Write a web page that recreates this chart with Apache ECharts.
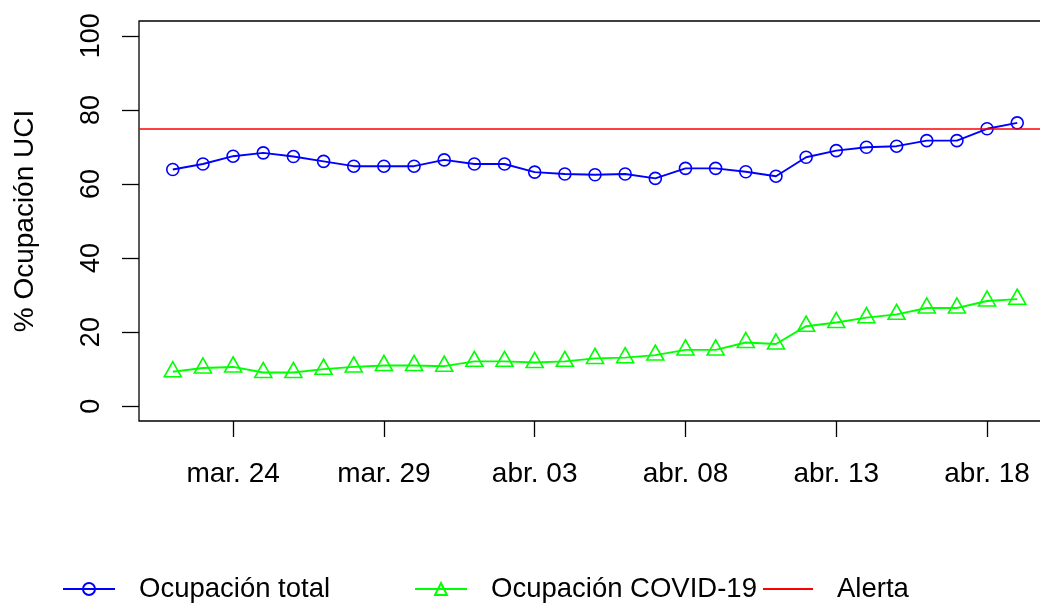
<!DOCTYPE html>
<html>
<head>
<meta charset="utf-8">
<script src="https://cdn.jsdelivr.net/npm/echarts@6/dist/echarts.min.js"></script>
<style>
  html, body { margin: 0; padding: 0; background: #fff; }
  #main { width: 1040px; height: 604px; }
</style>
</head>
<body>
<div id="main"></div>
<script>
// fechas (una por día)
const dates = ['mar. 22', 'mar. 23', 'mar. 24', 'mar. 25', 'mar. 26', 'mar. 27', 'mar. 28', 'mar. 29', 'mar. 30', 'mar. 31',
  'abr. 01', 'abr. 02', 'abr. 03', 'abr. 04', 'abr. 05', 'abr. 06', 'abr. 07', 'abr. 08', 'abr. 09', 'abr. 10',
  'abr. 11', 'abr. 12', 'abr. 13', 'abr. 14', 'abr. 15', 'abr. 16', 'abr. 17', 'abr. 18', 'abr. 19'];
const ocupTotal = [63.9, 65.4, 67.5, 68.4, 67.4, 66.1, 64.8, 64.8, 64.8, 66.5, 65.4, 65.4, 63.2, 62.7, 62.5,
  62.7, 61.5, 64.2, 64.2, 63.3, 62.1, 67.2, 69.0, 69.9, 70.2, 71.7, 71.7, 74.9, 76.5];
const ocupCovid = [9.3, 10.3, 10.6, 9.1, 9.1, 10.0, 10.6, 11.0, 11.0, 10.8, 12.1, 12.1, 11.8, 12.1, 12.9,
  13.1, 13.8, 15.2, 15.2, 17.2, 16.8, 21.6, 22.6, 23.9, 24.8, 26.5, 26.5, 28.4, 28.9];
const alerta = 75;
const xTickLabels = ['mar. 24', 'mar. 29', 'abr. 03', 'abr. 08', 'abr. 13', 'abr. 18'];
const yTicks = [0, 20, 40, 60, 80, 100];

const xTicks = xTickLabels.map(l => dates.indexOf(l));
const padX = (dates.length - 1) * 0.04;
const font = 'Liberation Sans, Arial, sans-serif';

let chart = echarts.init(document.getElementById('main'), null, { renderer: 'canvas' });

let legendText = { fontSize: 27.5, color: '#000', fontFamily: font, padding: [0, 0, 0, 19] };

let option = {
  backgroundColor: '#fff',
  animation: false,
  textStyle: { fontFamily: font },
  grid: {
    show: true,
    left: 139,
    right: -11,
    top: 21,
    bottom: 183,
    outerBoundsMode: 'none',
    borderColor: '#000',
    borderWidth: 1.3,
    backgroundColor: 'transparent'
  },
  xAxis: {
    type: 'value',
    min: -padX,
    max: dates.length - 1 + padX,
    splitLine: { show: false },
    axisLine: { show: false, onZero: false },
    axisTick: { show: true, inside: false, length: 16, customValues: xTicks, lineStyle: { color: '#000', width: 1.3 } },
    axisLabel: {
      customValues: xTicks,
      formatter: v => dates[Math.round(v)],
      margin: 39,
      fontSize: 28,
      color: '#000',
      fontFamily: font
    }
  },
  yAxis: {
    type: 'value',
    min: -4,
    max: 104,
    name: '% Ocupación UCI',
    nameLocation: 'middle',
    nameGap: 100,
    nameTextStyle: { fontSize: 28, color: '#000', fontFamily: font },
    splitLine: { show: false },
    axisLine: { show: false, onZero: false },
    axisTick: { show: true, inside: false, length: 17, customValues: yTicks, lineStyle: { color: '#000', width: 1.3 } },
    axisLabel: {
      customValues: yTicks,
      rotate: 90,
      margin: 34,
      fontSize: 27,
      color: '#000',
      fontFamily: font
    }
  },
  legend: [
    {
      data: ['Ocupación total'], left: 62, top: 575, padding: 0,
      itemWidth: 52, itemHeight: 15, textStyle: legendText
    },
    {
      data: ['Ocupación COVID-19'], left: 414, top: 575, padding: 0,
      itemWidth: 52, itemHeight: 15, textStyle: legendText
    },
    {
      data: ['Alerta'], left: 763, top: 575, padding: 0,
      icon: 'rect', itemWidth: 50, itemHeight: 2, textStyle: legendText
    }
  ],
  series: [
    {
      name: 'Ocupación total',
      type: 'line',
      data: ocupTotal.map((v, i) => [i, v]),
      symbol: 'circle',
      symbolSize: 12,
      lineStyle: { color: '#0000ff', width: 1.9 },
      itemStyle: { color: 'rgba(255,255,255,0)', borderColor: '#0000ff', borderWidth: 1.6 },
      z: 3
    },
    {
      name: 'Ocupación COVID-19',
      type: 'line',
      data: ocupCovid.map((v, i) => [i, v]),
      symbol: 'triangle',
      symbolSize: [17, 15],
      symbolOffset: [0, -2.5],
      lineStyle: { color: '#00ff00', width: 1.9 },
      itemStyle: { color: 'rgba(255,255,255,0)', borderColor: '#00ff00', borderWidth: 1.6 },
      z: 3
    },
    {
      name: 'Alerta',
      type: 'line',
      data: [],
      symbol: 'none',
      lineStyle: { color: '#ff0000', width: 1.8 },
      itemStyle: { color: '#ff0000' },
      markLine: {
        silent: true,
        symbol: 'none',
        label: { show: false },
        lineStyle: { color: '#ff0000', width: 1.6, type: 'solid' },
        data: [{ yAxis: alerta }]
      },
      z: 2
    }
  ]
};
chart.setOption(option);
</script>
</body>
</html>
